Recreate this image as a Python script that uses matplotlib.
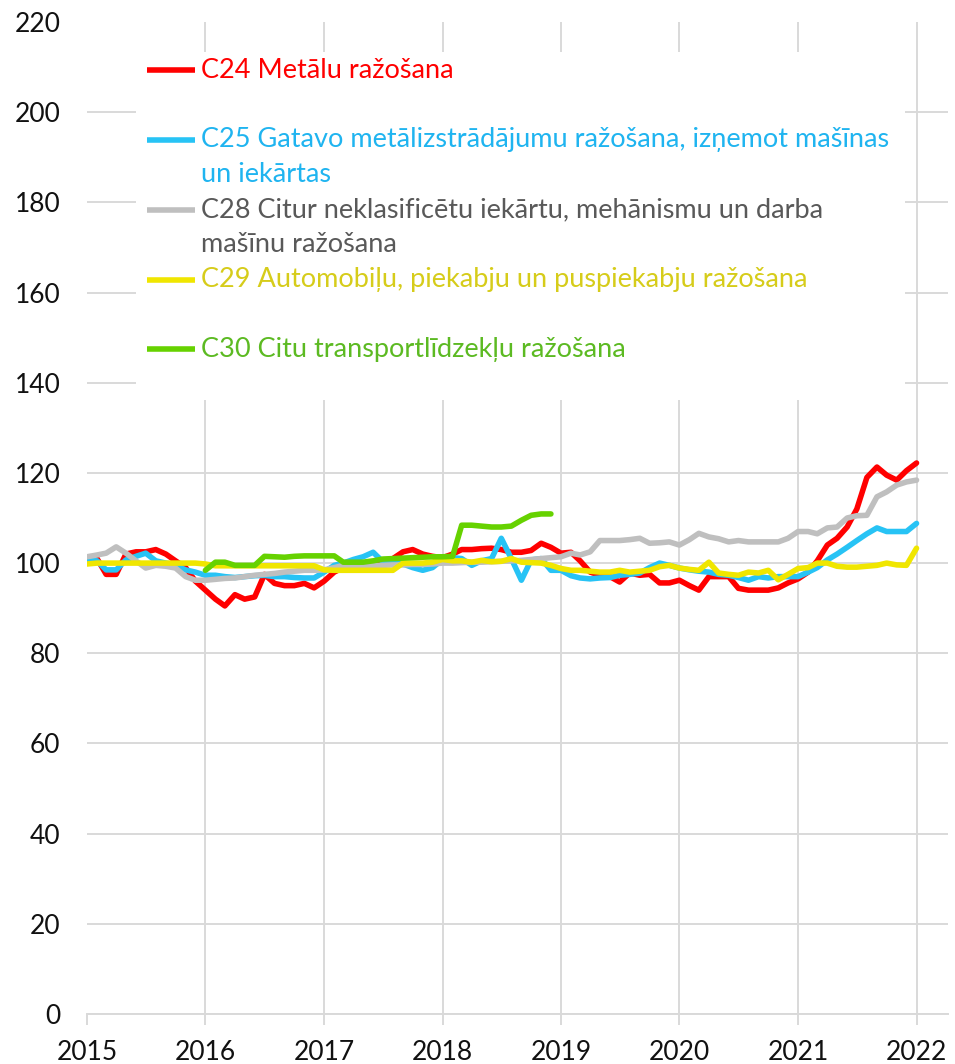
import numpy as np
import pandas as pd
import matplotlib
matplotlib.use("Agg")
import matplotlib.pyplot as plt
import matplotlib.dates as mdates
from matplotlib.patches import Rectangle
from matplotlib.lines import Line2D

plt.rcParams['font.family'] = ['Lato', 'DejaVu Sans']

# monthly index, Jan 2015 .. Jan 2022
months = pd.date_range('2015-01-01', periods=85, freq='MS')

c24 = [100.5, 101, 97.5, 97.5, 102, 102.5, 102.5, 103, 102, 100.5, 99, 96,
       94, 92, 90.5, 93, 92, 92.5, 97.5, 95.5, 95, 95, 95.5, 94.5,
       96, 98, 99, 99.5, 100, 100.2, 100, 101, 102.5, 103, 102, 101.5,
       101.2, 102, 103, 103, 103.2, 103.3, 103, 102.4, 102.4, 102.8, 104.4, 103.5,
       102.2, 102.4, 100.5, 98, 97.3, 97, 95.8, 97.8, 97.3, 97.5, 95.6, 95.6,
       96.2, 95, 94, 97, 97, 97, 94.4, 94, 94, 94, 94.5, 95.6,
       96.5, 98, 100.5, 104, 105.5, 108, 112, 119, 121.3, 119.5, 118.4, 120.5,
       122.2]

c25 = [100.7, 100.5, 98.5, 98.5, 100.7, 101.5, 102.2, 100.5, 100, 99.5, 98.5, 98,
       97.3, 97.3, 97, 96.8, 97, 97.2, 97.3, 97, 97, 96.8, 96.7, 96.7,
       98, 99.5, 100, 100.8, 101.4, 102.4, 100.3, 100.2, 99.8, 99, 98.4, 99,
       100.8, 101.2, 101, 99.5, 100.5, 101, 105.5, 101, 96.2, 100.7, 101, 98.4,
       98.4, 97.2, 96.7, 96.5, 96.7, 96.8, 97.3, 97.5, 97.8, 99, 100, 99.5,
       98.9, 98.5, 98.2, 98, 97.5, 97.3, 96.8, 96.2, 97, 96.7, 97, 97,
       97, 98, 99, 100.7, 102, 103.5, 105, 106.5, 107.8, 107, 107, 107,
       108.8]

c28 = [101.4, 101.8, 102.2, 103.6, 102.2, 100.5, 98.9, 99.5, 99.3, 98.9, 97, 96.2,
       96.2, 96.4, 96.6, 96.7, 97, 97.3, 97.5, 97.7, 98, 98.2, 98.4, 98.4,
       98.5, 99, 99.5, 99.5, 99.5, 99.5, 99.5, 99.6, 99.6, 99.7, 99.7, 99.8,
       100, 100, 100.1, 100.2, 100.2, 100.3, 100.4, 100.5, 100.6, 100.8, 101, 101.2,
       101.4, 102.2, 101.8, 102.5, 105, 105, 105, 105.2, 105.5, 104.4, 104.5, 104.7,
       104, 105.2, 106.6, 105.8, 105.4, 104.7, 105, 104.7, 104.7, 104.7, 104.7, 105.5,
       107, 107, 106.5, 107.8, 108, 110, 110.5, 110.6, 114.7, 115.8, 117.3, 118,
       118.4]

c29 = [99.8, 100, 100, 100, 100, 100, 100, 100, 100, 100, 100, 100,
       99.8, 99.4, 99.4, 99.4, 99.4, 99.4, 99.4, 99.4, 99.4, 99.4, 99.4, 99.4,
       98.5, 98.4, 98.4, 98.4, 98.4, 98.4, 98.4, 98.4, 100, 100, 100, 100.2,
       100.8, 100.5, 100.5, 100.2, 100.6, 100.3, 100.4, 101, 100.2, 100.1, 100, 99.5,
       98.8, 98.4, 98.4, 98.2, 98, 98, 98.4, 98, 98.2, 98.4, 99.2, 99.5,
       98.9, 98.6, 98.4, 100.2, 97.8, 97.5, 97.3, 98, 97.8, 98.4, 96.3, 97.5,
       98.8, 99, 100, 100, 99.3, 99.1, 99.1, 99.3, 99.5, 100, 99.6, 99.5,
       103.3]

# C30 only Jan 2016 .. Dec 2018
c30_months = pd.date_range('2016-01-01', periods=36, freq='MS')
c30 = [98.4, 100.2, 100.2, 99.5, 99.5, 99.5, 101.5, 101.4, 101.3, 101.5, 101.6, 101.6,
       101.6, 101.6, 100.2, 100.2, 100.2, 100.5, 100.9, 101, 101.1, 101.2, 101.3, 101.4,
       101.4, 101.5, 108.4, 108.4, 108.2, 108, 108, 108.2, 109.5, 110.6, 110.9, 110.9]

labels = [["C24 Metālu ražošana"],
          ["C25 Gatavo metālizstrādājumu ražošana, izņemot mašīnas", "un iekārtas"],
          ["C28 Citur neklasificētu iekārtu, mehānismu un darba", "mašīnu ražošana"],
          ["C29 Automobiļu, piekabju un puspiekabju ražošana"],
          ["C30 Citu transportlīdzekļu ražošana"]]
line_colors = ['#ff0000', '#27c3f5', '#bfbfbf', '#f0e600', '#66d200']
text_colors = ['#ff0000', '#1fb4f0', '#595959', '#d6cc1a', '#5cba22']

fig = plt.figure(figsize=(9.55, 10.64), dpi=100)
ax = fig.add_axes([87 / 955, 1 - 1014 / 1064, 861 / 955, 992 / 1064])

series = [(months, c24), (months, c25), (months, c28), (months, c29), (c30_months, c30)]
for (xs, ys), col in zip(series, line_colors):
    ax.plot(xs, ys, color=col, lw=4, solid_joinstyle='round', solid_capstyle='round', zorder=3)

ax.set_ylim(0, 220)
ax.set_yticks(np.arange(0, 221, 20))
ax.set_xlim(pd.Timestamp('2015-01-01'), pd.Timestamp('2022-04-08'))
ax.xaxis.set_major_locator(mdates.YearLocator())
ax.xaxis.set_major_formatter(mdates.DateFormatter('%Y'))

gridc = '#d9d9d9'
ax.grid(True, color=gridc, lw=1.4, zorder=0)
for gl in ax.get_xgridlines()[:1]:
    gl.set_visible(False)
ax.get_ygridlines()[-1].set_visible(False)
for s in ['top', 'right', 'left']:
    ax.spines[s].set_visible(False)
ax.spines['bottom'].set_color(gridc)
ax.spines['bottom'].set_linewidth(1.4)
ax.tick_params(axis='y', length=0, pad=19, labelsize=19, labelcolor='#111111')
ax.tick_params(axis='x', length=8, width=1.4, color=gridc, pad=11, labelsize=19, labelcolor='#111111')

# legend block (white box over the grid)
def fy(py):
    return (1014 - py) / 992

def fx(px):
    return (px - 87) / 861

ax.add_patch(Rectangle((fx(136), fy(400)), fx(905) - fx(136), fy(52) - fy(400),
                       transform=ax.transAxes, facecolor='white', edgecolor='none', zorder=4))
rows = [70, 140, 210, 280, 349]
for lab, y0, lc, tc in zip(labels, rows, line_colors, text_colors):
    ax.add_line(Line2D([fx(147), fx(195)], [fy(y0), fy(y0)], transform=ax.transAxes,
                       color=lc, lw=4, solid_capstyle='butt', zorder=5))
    for k, part in enumerate(lab):
        ax.text(fx(201), fy(y0 + 35 * k), part, transform=ax.transAxes, color=tc,
                fontsize=19.5, va='center', ha='left', zorder=5)

fig.savefig('out.png', dpi=100)
